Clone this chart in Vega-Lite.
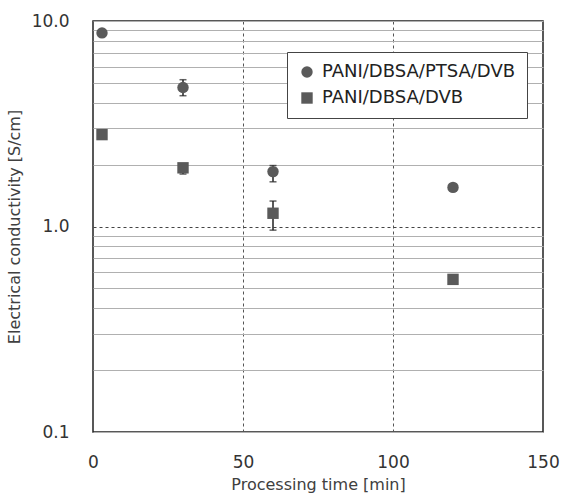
{
  "$schema": "https://vega.github.io/schema/vega-lite/v6.json",
  "autosize": {"type": "none"},
  "width": 450,
  "height": 411,
  "padding": {"left": 93, "top": 21, "right": 18, "bottom": 62},
  "background": "white",
  "config": {
    "font": "DejaVu Sans",
    "view": {"stroke": "#222222", "strokeWidth": 1.5}
  },
  "data": {
    "values": [
      {"series": "PANI/DBSA/PTSA/DVB", "time": 3, "value": 8.75, "lo": null, "hi": null},
      {"series": "PANI/DBSA/PTSA/DVB", "time": 30, "value": 4.75, "lo": 4.33, "hi": 5.18},
      {"series": "PANI/DBSA/PTSA/DVB", "time": 60, "value": 1.85, "lo": 1.65, "hi": 1.98},
      {"series": "PANI/DBSA/PTSA/DVB", "time": 120, "value": 1.55, "lo": null, "hi": null},
      {"series": "PANI/DBSA/DVB", "time": 3, "value": 2.8, "lo": null, "hi": null},
      {"series": "PANI/DBSA/DVB", "time": 30, "value": 1.93, "lo": 1.8, "hi": 2.02},
      {"series": "PANI/DBSA/DVB", "time": 60, "value": 1.16, "lo": 0.96, "hi": 1.33},
      {"series": "PANI/DBSA/DVB", "time": 120, "value": 0.553, "lo": null, "hi": null}
    ]
  },
  "layer": [
    {
      "transform": [{"filter": "datum.lo != null"}],
      "mark": {"type": "errorbar", "ticks": {"size": 7, "color": "#222222"}, "rule": {"color": "#222222"}, "thickness": 1.5},
      "encoding": {
        "x": {"field": "time", "type": "quantitative", "title": "Processing time [min]"},
        "y": {"field": "lo", "type": "quantitative", "title": "Electrical conductivity [S/cm]", "scale": {"type": "log", "domain": [0.1, 10]}},
        "y2": {"field": "hi"}
      }
    },
    {
      "mark": {"type": "point", "filled": true, "opacity": 1, "size": 130},
      "encoding": {
        "x": {
          "field": "time",
          "type": "quantitative",
          "scale": {"domain": [0, 150], "nice": false},
          "axis": {
            "values": [0, 50, 100, 150],
            "title": "Processing time [min]",
            "titleFontSize": 16,
            "titleFontWeight": "normal",
            "titleColor": "#404040",
            "titlePadding": 6,
            "labelFontSize": 17,
            "labelColor": "#333333",
            "labelPadding": 22,
            "labelFlush": false,
            "ticks": false,
            "domain": false,
            "grid": true,
            "gridColor": {"condition": {"test": "datum.value == 0 || datum.value == 150", "value": "transparent"}, "value": "#555555"},
            "gridDash": [3, 3],
            "gridWidth": 1
          }
        },
        "y": {
          "field": "value",
          "type": "quantitative",
          "scale": {"type": "log", "domain": [0.1, 10], "nice": false},
          "axis": {
            "values": [0.1, 0.2, 0.3, 0.4, 0.5, 0.6, 0.7, 0.8, 0.9, 1, 2, 3, 4, 5, 6, 7, 8, 9, 10],
            "labelExpr": "(datum.value == 0.1 || datum.value == 1 || datum.value == 10) ? format(datum.value, '.1f') : ''",
            "title": "Electrical conductivity [S/cm]",
            "titleFontSize": 16,
            "titleFontWeight": "normal",
            "titleColor": "#404040",
            "titlePadding": 9,
            "labelFontSize": 17,
            "labelColor": "#333333",
            "labelPadding": 24,
            "labelFlush": false,
            "ticks": false,
            "domain": false,
            "grid": true,
            "gridColor": {"condition": {"test": "datum.value == 1", "value": "#444444"}, "value": "#b0b0b0"},
            "gridDash": {"condition": {"test": "datum.value == 1", "value": [3, 3]}, "value": []},
            "gridWidth": 1
          }
        },
        "shape": {
          "field": "series",
          "type": "nominal",
          "scale": {"domain": ["PANI/DBSA/PTSA/DVB", "PANI/DBSA/DVB"], "range": ["circle", "square"]},
          "legend": {
            "title": null,
            "orient": "none",
            "legendX": 194,
            "legendY": 31,
            "labelFontSize": 18,
            "labelColor": "#222222",
            "labelOffset": 6,
            "symbolSize": 130,
            "symbolFillColor": "#5a5a5a",
            "symbolStrokeWidth": 0,
            "rowPadding": 8,
            "padding": 11,
            "fillColor": "white",
            "strokeColor": "#444444",
            "labelLimit": 300
          }
        },
        "color": {"value": "#5a5a5a"}
      }
    }
  ]
}
